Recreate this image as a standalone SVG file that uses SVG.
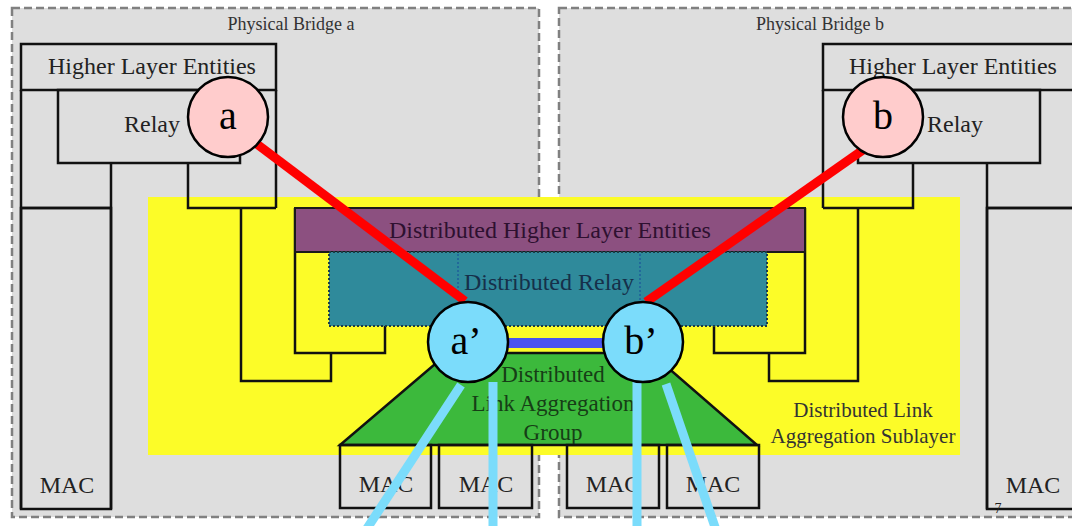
<svg xmlns="http://www.w3.org/2000/svg" width="1072" height="526" viewBox="0 0 1072 526">
  <style>
    text { font-family: "Liberation Serif", "Times New Roman", serif; }
    .bridge { fill: #dedede; stroke: #808080; stroke-width: 2.5; stroke-dasharray: 8 4; }
    .ln { fill: none; stroke: #111; stroke-width: 2.5; }
    .box { fill: none; stroke: #111; stroke-width: 2.5; }
    .lbl { font-size: 24px; fill: #222; text-anchor: middle; }
    .small { font-size: 18px; fill: #333; text-anchor: middle; }
    .red { stroke: #ff0000; stroke-width: 9; stroke-linecap: butt; }
    .cyan { stroke: #7bdcfb; stroke-width: 9; }
    .pink { fill: #ffcccc; stroke: #000; stroke-width: 2.5; }
    .lblue { fill: #7bdcfb; stroke: #000; stroke-width: 2.5; }
    .ctext { font-size: 40px; fill: #000; text-anchor: middle; }
  </style>

  <rect width="1072" height="526" fill="#ffffff"/>

  <!-- physical bridges -->
  <g id="bridge-a">
    <rect class="bridge" x="12" y="8" width="527" height="509"/>
    <text class="small" x="291" y="30">Physical Bridge a</text>
  </g>
  <g id="bridge-b">
    <rect class="bridge" x="559" y="8" width="532" height="509"/>
    <text class="small" x="820" y="30">Physical Bridge b</text>
  </g>

  <!-- distributed link aggregation sublayer -->
  <g id="dla-sublayer">
    <rect x="148" y="197" width="812" height="258" fill="#fcfc28"/>
    <text x="863" y="417" font-size="21" fill="#333" text-anchor="middle">Distributed Link</text>
    <text x="863" y="443" font-size="21" fill="#333" text-anchor="middle">Aggregation Sublayer</text>
  </g>

  <!-- bridge a internals -->
  <g id="stack-a">
    <rect class="box" x="21" y="44" width="255" height="46"/>
    <text class="lbl" x="152" y="74">Higher Layer Entities</text>
    <rect class="box" x="58" y="90" width="182" height="73"/>
    <text class="lbl" x="152" y="132">Relay</text>
    <path class="ln" d="M21 90 V509 M276 90 V208 M111 163 V509 M21 208 H111 M188 163 V208 H276"/>
    <path class="ln" d="M241 208 V381 H331 V353"/>
    <path class="ln" d="M295 208 V353 H385 V326"/>
    <rect class="box" x="21" y="208" width="90" height="301"/>
    <text class="lbl" x="67" y="493">MAC</text>
  </g>

  <!-- bridge b internals -->
  <g id="stack-b">
    <rect class="box" x="823" y="44" width="260" height="46"/>
    <text class="lbl" x="953" y="74">Higher Layer Entities</text>
    <rect class="box" x="858" y="90" width="182" height="73"/>
    <text class="lbl" x="955" y="132">Relay</text>
    <path class="ln" d="M823 90 V208 M987 163 V509 M987 208 H1080 M913 163 V208 H823"/>
    <path class="ln" d="M858 208 V381 H769 V353"/>
    <path class="ln" d="M805 208 V353 H714 V326"/>
    <rect class="box" x="987" y="208" width="95" height="301"/>
    <text class="lbl" x="1033" y="493">MAC</text>
    <text x="998" y="513" font-size="14" fill="#222" text-anchor="middle">7</text>
  </g>

  <!-- distributed higher layer entities -->
  <g id="dhle">
    <rect x="295" y="208" width="510" height="44" fill="#8c5080" stroke="#1a1a1a" stroke-width="2"/>
    <text x="550" y="238" font-size="24" fill="#2e1030" text-anchor="middle">Distributed Higher Layer Entities</text>
  </g>

  <!-- distributed relay -->
  <g id="drelay">
    <rect x="329" y="252" width="438" height="74" fill="#2f8a9b" stroke="#1d3c48" stroke-width="2" stroke-dasharray="2 2"/>
    <path d="M458 254 V324 M640 254 V324" stroke="#1f5f9a" stroke-width="1.5" stroke-dasharray="2 2" fill="none"/>
    <text x="549" y="290" font-size="24" fill="#16304a" text-anchor="middle">Distributed Relay</text>
  </g>

  <!-- distributed link aggregation group -->
  <g id="dlag">
    <polygon points="448,353 651,353 757,445 340,445" fill="#3cb93c" stroke="#111" stroke-width="2.5"/>
    <text x="553" y="382" font-size="23" fill="#163e16" text-anchor="middle">Distributed</text>
    <text x="553" y="411" font-size="23" fill="#163e16" text-anchor="middle">Link Aggregation</text>
    <text x="553" y="440" font-size="23" fill="#163e16" text-anchor="middle">Group</text>
  </g>

  <!-- aggregated port MACs -->
  <g id="mac-a1">
    <rect class="box" x="340" y="445" width="91" height="63"/>
    <text class="lbl" x="386" y="492">MAC</text>
  </g>
  <g id="mac-a2">
    <rect class="box" x="439" y="445" width="93" height="63"/>
    <text class="lbl" x="486" y="492">MAC</text>
  </g>
  <g id="mac-b1">
    <rect class="box" x="567" y="445" width="92" height="63"/>
    <text class="lbl" x="613" y="492">MAC</text>
  </g>
  <g id="mac-b2">
    <rect class="box" x="667" y="445" width="92" height="63"/>
    <text class="lbl" x="713" y="492">MAC</text>
  </g>

  <!-- connectors -->
  <g id="connectors">
    <line class="red" x1="245" y1="135" x2="465" y2="301"/>
    <line class="red" x1="880" y1="138" x2="646" y2="302"/>
    <rect x="505" y="338" width="101" height="10" fill="#4a55f0"/>
    <line class="cyan" x1="461" y1="385" x2="366" y2="530"/>
    <line class="cyan" x1="493" y1="382" x2="493" y2="530"/>
    <line class="cyan" x1="637" y1="382" x2="637" y2="530"/>
    <line class="cyan" x1="666" y1="384" x2="716" y2="530"/>
  </g>

  <!-- relay endpoints -->
  <g id="node-a">
    <circle class="pink" cx="228" cy="117" r="40"/>
    <text class="ctext" x="228" y="129">a</text>
  </g>
  <g id="node-b">
    <circle class="pink" cx="883" cy="117" r="40"/>
    <text class="ctext" x="883" y="129">b</text>
  </g>
  <g id="node-a-prime">
    <circle class="lblue" cx="468" cy="342" r="40"/>
    <text class="ctext" x="466" y="354">a’</text>
  </g>
  <g id="node-b-prime">
    <circle class="lblue" cx="643" cy="342" r="40"/>
    <text class="ctext" x="641" y="354">b’</text>
  </g>
</svg>
